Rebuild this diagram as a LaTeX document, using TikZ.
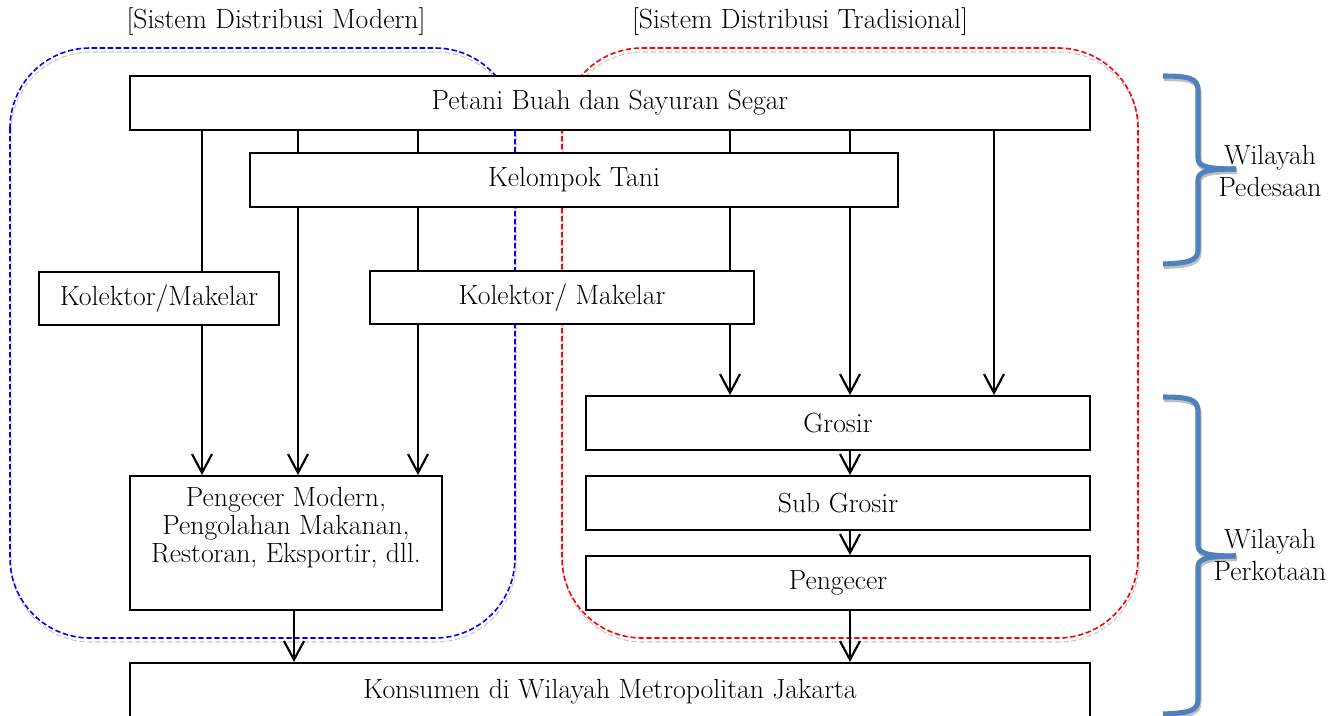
\documentclass[tikz,border=0pt]{standalone}
\usetikzlibrary{arrows.meta}
\definecolor{braceblue}{RGB}{79,129,189}
\begin{document}
\begin{tikzpicture}[x=0.75pt,y=-0.75pt,
  txt/.style={font=\fontsize{20.8}{23.5}\selectfont, inner sep=0pt, align=center},
  box/.style={draw=black, line width=1.5pt, fill=white, inner sep=0pt, font=\fontsize{20.8}{23}\selectfont},
  conn/.style={line width=1.6pt, draw=black},
  arr/.style={conn, -{Straight Barb[length=14pt,width=15pt,line width=1.6pt]}},
  region/.style={dash pattern=on 4pt off 2pt, line width=1.2pt, rounded corners=60pt},
  shade/.style={region, draw=black!22, line width=0.8pt},
  brace/.style={line width=3.8pt, draw=braceblue},
  braceshade/.style={line width=3.8pt, draw=black!25}
]
\useasboundingbox (0,0) rectangle (1343,715);

% dashed regions
\draw[shade] (11,52) rectangle (516,642);
\draw[region, draw=blue] (10,48) rectangle (515,638);
\draw[shade] (563,52) rectangle (1139,642);
\draw[region, draw=red] (562,48) rectangle (1138,638);

% headers
\node[txt] (hmod) at (276,22) {[Sistem Distribusi Modern]};
\node[txt] (htrad) at (800,22) {[Sistem Distribusi Tradisional]};

% column coordinates
\coordinate (c202) at (202,0);
\coordinate (c294) at (294,0);
\coordinate (c298) at (298,0);
\coordinate (c418) at (418,0);
\coordinate (c730) at (730,0);
\coordinate (c850) at (850,0);
\coordinate (c994) at (994,0);

% boxes
\node[box, minimum width=720pt, minimum height=40.5pt] (petani) at (610,103) {Petani Buah dan Sayuran Segar};
\node[box, minimum width=486pt, minimum height=40.5pt] (kelompok) at (574,180) {Kelompok Tani};
\node[box, minimum width=180pt, minimum height=39.75pt] (kol1) at (159,298.5) {Kolektor/Makelar};
\node[box, minimum width=288pt, minimum height=39.75pt] (kol2) at (562,297.5) {Kolektor/ Makelar};
\node[box, minimum width=378pt, minimum height=40.5pt] (grosir) at (838,423) {Grosir};
\node[box, minimum width=378pt, minimum height=40.5pt] (subgrosir) at (838,503) {Sub Grosir};
\node[box, minimum width=378pt, minimum height=40.5pt] (pengecer) at (838,583) {Pengecer};
\node[box, minimum width=234pt, minimum height=100.5pt] (pm) at (286,543) {};
\node[txt, font=\fontsize{20.8}{21}\selectfont] (pmt) at (286,528) {Pengecer Modern,\\Pengolahan Makanan,\\Restoran, Eksportir, dll.};
\node[box, minimum width=720pt, minimum height=42.75pt] (konsumen) at (610,691.5) {Konsumen di Wilayah Metropolitan Jakarta};

% connectors
\draw[conn] (petani.south -| c202) -- (kol1.north -| c202);
\draw[arr] (kol1.south -| c202) -- (pm.north -| c202);
\draw[conn] (petani.south -| c298) -- (kelompok.north -| c298);
\draw[arr] (kelompok.south -| c298) -- (pm.north -| c298);
\draw[conn] (petani.south -| c418) -- (kelompok.north -| c418);
\draw[conn] (kelompok.south -| c418) -- (kol2.north -| c418);
\draw[arr] (kol2.south -| c418) -- (pm.north -| c418);
\draw[conn] (petani.south -| c730) -- (kelompok.north -| c730);
\draw[conn] (kelompok.south -| c730) -- (kol2.north -| c730);
\draw[arr] (kol2.south -| c730) -- (grosir.north -| c730);
\draw[conn] (petani.south -| c850) -- (kelompok.north -| c850);
\draw[arr] (kelompok.south -| c850) -- (grosir.north -| c850);
\draw[arr] (petani.south -| c994) -- (grosir.north -| c994);
\draw[arr] (grosir.south -| c850) -- (subgrosir.north -| c850);
\draw[arr] (subgrosir.south -| c850) -- (pengecer.north -| c850);
\draw[arr] (pengecer.south -| c850) -- (konsumen.north -| c850);
\draw[arr] (pm.south -| c294) -- (konsumen.north -| c294);

% braces
\begin{scope}[shift={(1,2.5)}]
\draw[braceshade] (1163,76) .. controls (1188,76) and (1198,78) .. (1198,90) -- (1198,158) .. controls (1198,166) and (1206,169) .. (1236,169);
\draw[braceshade] (1236,169) .. controls (1206,169) and (1198,172) .. (1198,180) -- (1198,250) .. controls (1198,261) and (1188,263) .. (1163,264);
\draw[braceshade] (1163,397) .. controls (1188,397) and (1198,399) .. (1198,411) -- (1198,545) .. controls (1198,553) and (1206,556) .. (1236,556);
\draw[braceshade] (1236,556) .. controls (1206,556) and (1198,559) .. (1198,567) -- (1198,700) .. controls (1198,711) and (1188,713) .. (1163,714);
\end{scope}
\draw[brace] (1163,76) .. controls (1188,76) and (1198,78) .. (1198,90) -- (1198,158) .. controls (1198,166) and (1206,169) .. (1236,169);
\draw[brace] (1236,169) .. controls (1206,169) and (1198,172) .. (1198,180) -- (1198,250) .. controls (1198,261) and (1188,263) .. (1163,264);
\draw[brace] (1163,397) .. controls (1188,397) and (1198,399) .. (1198,411) -- (1198,545) .. controls (1198,553) and (1206,556) .. (1236,556);
\draw[brace] (1236,556) .. controls (1206,556) and (1198,559) .. (1198,567) -- (1198,700) .. controls (1198,711) and (1188,713) .. (1163,714);

\node[txt] (wpd) at (1270,171) {Wilayah\\Pedesaan};
\node[txt] (wpk) at (1270,555) {Wilayah\\Perkotaan};
\end{tikzpicture}
\end{document}
